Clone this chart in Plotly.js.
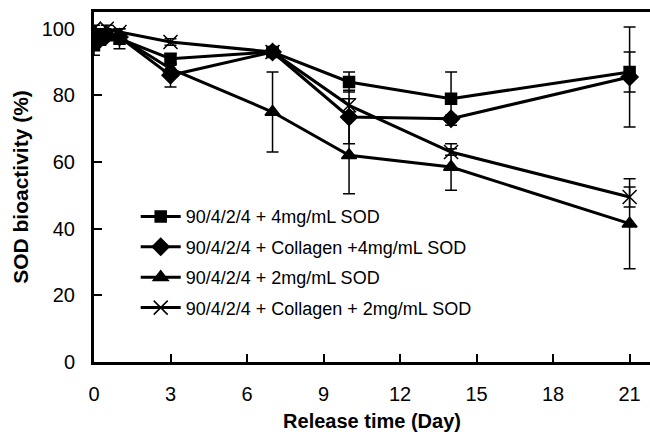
<!DOCTYPE html>
<html>
<head>
<meta charset="utf-8">
<script src="https://cdn.plot.ly/plotly-3.0.1.min.js"></script>
<style>html,body{margin:0;padding:0;background:#fff;}#chart{width:650px;height:434px;}</style>
</head>
<body>
<div id="chart"></div>
<script>
var days = [0, 0.25, 0.5, 1, 3, 7, 10, 14, 21];
var seriesNames = [
  "90/4/2/4 + 4mg/mL SOD",
  "90/4/2/4 + Collagen +4mg/mL SOD",
  "90/4/2/4 + 2mg/mL SOD",
  "90/4/2/4 + Collagen + 2mg/mL SOD"
];
var sod4 = [95, 97, 98, 97, 91, 93, 84, 79, 87];
var sod4Err = [3, 2, 1, 3, 1.5, 1, 3, 8, 6];
var col4 = [96, 97, 98, 97.5, 86, 93, 73.5, 73, 85.5];
var col4Err = [2, 1, 1, 1, 3.5, 1.5, 8, 1, 15];
var sod2 = [96, 98, 98, 97.5, 88, 75, 62, 58.5, 41.5];
var sod2Err = [2, 1, 1, 1, 1, 12, 11.5, 7, 13.5];
var col2 = [100, 99, 100, 99, 96, 93, 77, 63, 49.5];
var col2Err = [1, 1, 1, 1, 1, 1, 2, 1, 3];
var xTicks = [0, 3, 6, 9, 12, 15, 18, 21];
var yTicks = [0, 20, 40, 60, 80, 100];

var values = [sod4, col4, sod2, col2];
var errs = [sod4Err, col4Err, sod2Err, col2Err];
var symbols = ["square", "diamond", "triangle-up", "x-thin-open"];
var sizes = [11, 13, 13, 14];

var traces = values.map(function (v, i) {
  return {
    x: days, y: v, name: seriesNames[i], legendgroup: "g" + i,
    type: "scatter", mode: "lines+markers",
    line: {color: "#000", width: 3},
    marker: {symbol: symbols[i], size: sizes[i], color: "#000", line: {color: "#000", width: 1.5}},
    error_y: {type: "data", array: errs[i], visible: true, color: "#000", thickness: 1.5, width: 6}
  };
});

var layout = {
  width: 650, height: 434,
  margin: {l: 94, r: 0, t: 12, b: 72},
  paper_bgcolor: "#fff", plot_bgcolor: "#fff",
  font: {family: "Liberation Sans, Arial, sans-serif", color: "#000"},
  showlegend: true,
  legend: {x: 0.075, y: 0.468, xanchor: "left", yanchor: "top", bgcolor: "rgba(0,0,0,0)",
           font: {size: 18, color: "#000"}, traceorder: "grouped", tracegroupgap: 4, itemwidth: 40},
  xaxis: {
    range: [0, 21.8], tickvals: xTicks, ticktext: xTicks.map(String),
    ticks: "inside", ticklen: 8, tickwidth: 2, tickcolor: "#000",
    showline: true, linewidth: 3, linecolor: "#000", mirror: true,
    showgrid: false, zeroline: false, ticklabelstandoff: 12,
    tickfont: {size: 20},
    title: {text: "<b>Release time (Day)</b>", font: {size: 20}, standoff: 10}
  },
  yaxis: {
    range: [0, 105], tickvals: yTicks, ticktext: yTicks.map(String),
    ticks: "inside", ticklen: 8, tickwidth: 2, tickcolor: "#000",
    showline: true, linewidth: 3, linecolor: "#000",
    showgrid: false, zeroline: false, ticklabelstandoff: 12,
    tickfont: {size: 20},
    title: {text: "<b>SOD bioactivity (%)</b>", font: {size: 21}, standoff: 8}
  }
};
Plotly.newPlot("chart", traces, layout, {displayModeBar: false, staticPlot: true});
</script>
</body>
</html>
